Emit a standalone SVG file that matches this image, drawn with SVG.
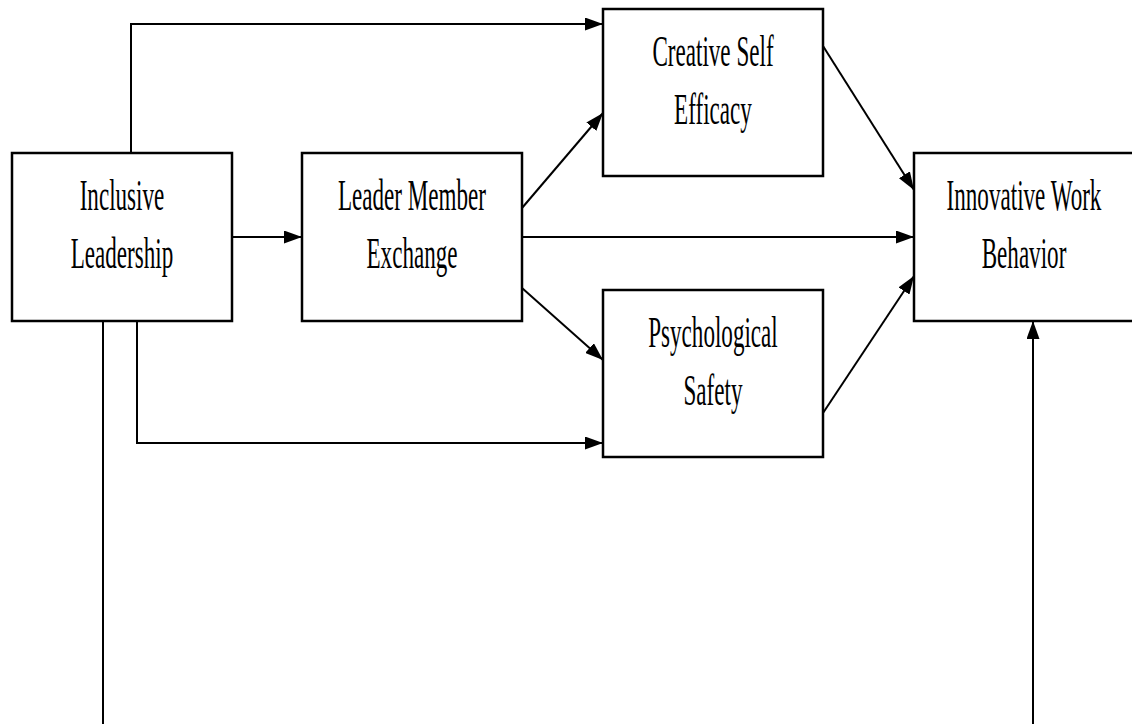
<svg xmlns="http://www.w3.org/2000/svg" width="1132" height="724" viewBox="0 0 1132 724">
  <style>
    .box { fill: #ffffff; stroke: #000000; stroke-width: 2.5; }
    .lbl { font-family: "Liberation Serif", "Times New Roman", serif; font-size: 44px; fill: #000000; text-anchor: middle; }
    .wire { fill: none; stroke: #000000; stroke-width: 2; }
    .arr { marker-end: url(#head); }
  </style>
  <defs>
    <marker id="head" markerUnits="userSpaceOnUse" markerWidth="18" markerHeight="13" refX="18" refY="6.5" orient="auto">
      <path d="M0,0 L18,6.5 L0,13 z" fill="#000000"/>
    </marker>
  </defs>
  <rect width="1132" height="724" fill="#ffffff"/>

  <!-- connectors -->
  <g id="connectors">
    <polyline class="wire arr" points="131,153 131,24 603,24"/>
    <line class="wire arr" x1="232" y1="237" x2="302" y2="237"/>
    <line class="wire arr" x1="522" y1="208" x2="603" y2="113"/>
    <line class="wire arr" x1="522" y1="237" x2="914" y2="237"/>
    <line class="wire arr" x1="522" y1="288" x2="603" y2="360"/>
    <polyline class="wire arr" points="137,321 137,443 603,443"/>
    <line class="wire" x1="103" y1="321" x2="103" y2="724"/>
    <line class="wire arr" x1="823" y1="46" x2="914" y2="190"/>
    <line class="wire arr" x1="823" y1="413" x2="914" y2="276"/>
    <line class="wire arr" x1="1033" y1="724" x2="1033" y2="321"/>
  </g>

  <!-- nodes: labels are set in a narrowed serif (horizontal scale 0.525) -->
  <g id="inclusive-leadership">
    <rect class="box" x="12" y="153" width="220" height="168"/>
    <text class="lbl" transform="translate(122 210) scale(0.525 1)">Inclusive</text>
    <text class="lbl" transform="translate(122 268) scale(0.525 1)">Leadership</text>
  </g>
  <g id="leader-member-exchange">
    <rect class="box" x="302" y="153" width="220" height="168"/>
    <text class="lbl" transform="translate(412 210) scale(0.525 1)">Leader Member</text>
    <text class="lbl" transform="translate(412 268) scale(0.525 1)">Exchange</text>
  </g>
  <g id="creative-self-efficacy">
    <rect class="box" x="603" y="9" width="220" height="167"/>
    <text class="lbl" transform="translate(713 66) scale(0.525 1)">Creative Self</text>
    <text class="lbl" transform="translate(713 124) scale(0.525 1)">Efficacy</text>
  </g>
  <g id="psychological-safety">
    <rect class="box" x="603" y="290" width="220" height="167"/>
    <text class="lbl" transform="translate(713 347) scale(0.525 1)">Psychological</text>
    <text class="lbl" transform="translate(713 405) scale(0.525 1)">Safety</text>
  </g>
  <g id="innovative-work-behavior">
    <!-- right side of this box runs past the page edge -->
    <path class="box" d="M1132,153 H914 V321 H1132"/>
    <text class="lbl" transform="translate(1024 210) scale(0.525 1)">Innovative Work</text>
    <text class="lbl" transform="translate(1024 268) scale(0.525 1)">Behavior</text>
  </g>
</svg>
